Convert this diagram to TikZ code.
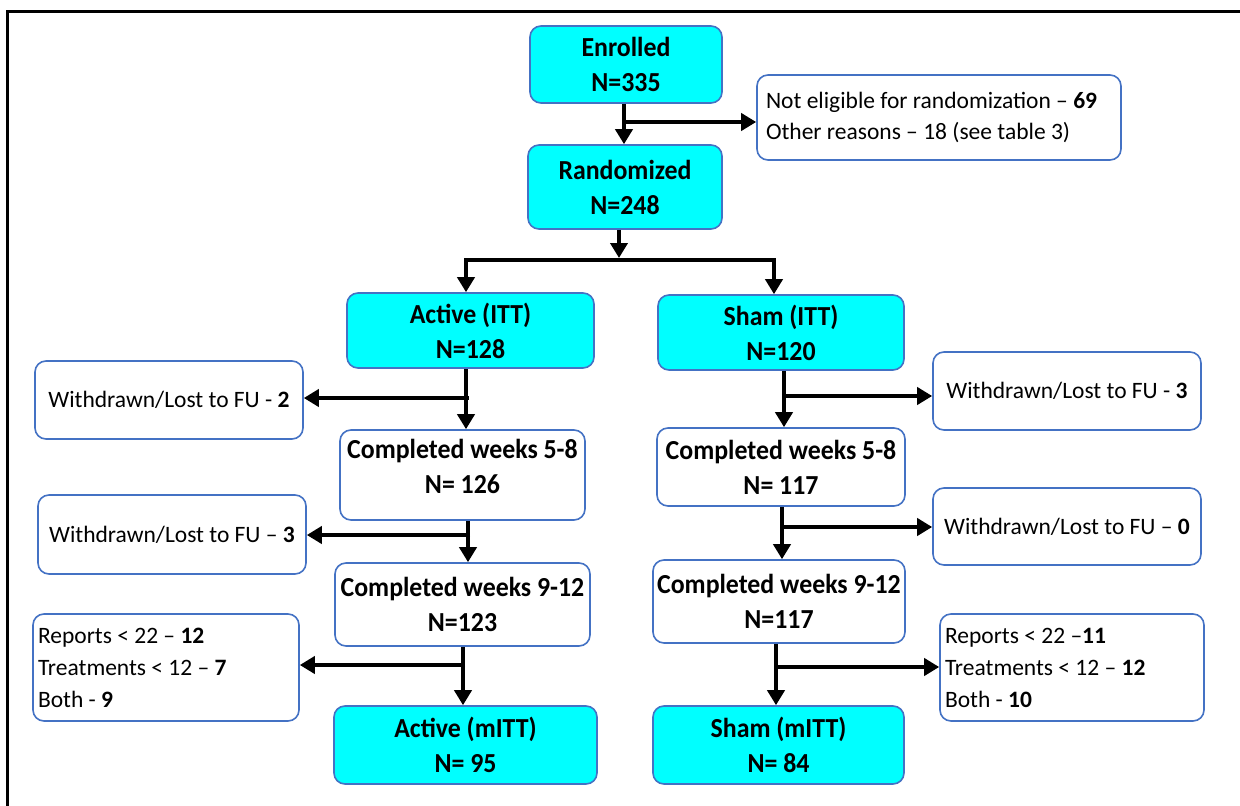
\documentclass[tikz,border=0pt]{standalone}
\usepackage{fontspec}
\setmainfont{Carlito}
\newfontfamily\boldface[FakeStretch=0.94]{Carlito}
\usetikzlibrary{arrows.meta}
\definecolor{bordc}{RGB}{68,114,196}
\definecolor{cyanf}{RGB}{0,255,255}
\begin{document}
\begin{tikzpicture}[x=1pt,y=-1pt,
  box/.style={draw=bordc, line width=1.6pt, rounded corners=11pt, inner sep=0pt, align=center},
  cybox/.style={box, fill=cyanf, font=\boldface\bfseries\fontsize{27.5}{35}\selectfont},
  wbox/.style={box, fill=white, font=\boldface\bfseries\fontsize{27.5}{35}\selectfont},
  nbox/.style={box, fill=white, font=\fontsize{23.5}{32}\selectfont},
  lbox/.style={nbox, align=flush left},
  arr/.style={line width=4.7pt, -{Triangle[length=15pt,width=17pt]}},
  frame/.style={line width=3pt}]
\useasboundingbox (0,0) rectangle (1240,806);
\draw[frame] (7.5,806) -- (7.5,11.5) -- (1240,11.5);

% main column
\node[cybox, minimum width=192pt, minimum height=77pt] (enr) at (626,64.5) {Enrolled\\N=335};
\node[cybox, minimum width=194pt, minimum height=84pt] (ran) at (625,187) {Randomized\\N=248};
\node[lbox, minimum height=85pt, text width=346pt, inner xsep=9pt,
      font=\fontsize{23.5}{31}\selectfont] (nel) at (939,117.5)
      {Not eligible for randomization – \textbf{69}\\Other reasons – 18 (see table 3)};

% active arm
\node[cybox, minimum width=247pt, minimum height=75pt] (act) at (470.5,330.5) {Active (ITT)\\N=128};
\node[wbox, minimum width=245pt, minimum height=90pt, text depth=17pt] (a58) at (462.5,475) {Completed weeks 5-8\\N= 126};
\node[wbox, minimum width=255pt, minimum height=83pt] (a912) at (462.5,604.5) {Completed weeks 9-12\\N=123};
\node[cybox, minimum width=263pt, minimum height=78pt] (am) at (465.5,745) {Active (mITT)\\N= 95};
\node[nbox, minimum width=268pt, minimum height=78pt] (wl1) at (169,400) {Withdrawn/Lost to FU - \textbf{2}};
\node[nbox, minimum width=268pt, minimum height=79pt] (wl2) at (172,534.5) {Withdrawn/Lost to FU – \textbf{3}};
\node[lbox, minimum height=107pt, text width=256pt, inner xsep=5pt] (rl) at (166,667.5)
      {Reports < 22 – \textbf{12}\\Treatments < 12 – \textbf{7}\\Both - \textbf{9}};

% sham arm
\node[cybox, minimum width=246pt, minimum height=75pt] (sham) at (781,332.5) {Sham (ITT)\\N=120};
\node[wbox, minimum width=248pt, minimum height=78pt] (s58) at (781,467) {Completed weeks 5-8\\N= 117};
\node[wbox, minimum width=252pt, minimum height=83pt] (s912) at (779,601.5) {Completed weeks 9-12\\N=117};
\node[cybox, minimum width=251pt, minimum height=78pt] (sm) at (778.5,745) {Sham (mITT)\\N= 84};
\node[nbox, minimum width=268pt, minimum height=78pt] (wr1) at (1067,391) {Withdrawn/Lost to FU - \textbf{3}};
\node[nbox, minimum width=268pt, minimum height=77pt] (wr2) at (1067,526.5) {Withdrawn/Lost to FU – \textbf{0}};
\node[lbox, minimum height=107pt, text width=254pt, inner xsep=5pt] (rr) at (1072,667.5)
      {Reports < 22 –\textbf{11}\\Treatments < 12 – \textbf{12}\\Both - \textbf{10}};

% connectors top
\coordinate (j1) at (624,122);
\draw[arr] (enr.south -| j1) -- (ran.north -| j1);
\draw[arr] (j1) -- (nel.west |- j1);
\coordinate (j2) at (619,258);
\coordinate (jl) at (466,260);
\coordinate (jr) at (774,260);
\draw[arr] (ran.south -| j2) -- (j2);
\draw[arr] (jr) -- (jl) -- (act.north -| jl);
\draw[arr] (jl) -- (jr) -- (sham.north -| jr);

% active connectors
\coordinate (b1) at (466,398);
\draw[arr] (act.south -| b1) -- (a58.north -| b1);
\draw[arr] ([xshift=3pt]b1) -- (wl1.east |- b1);
\coordinate (b2) at (468,535);
\draw[arr] (a58.south -| b2) -- (a912.north -| b2);
\draw[arr] ([xshift=2pt]b2) -- (wl2.east |- b2);
\coordinate (b3) at (463,665);
\draw[arr] (a912.south -| b3) -- (am.north -| b3);
\draw[arr] ([xshift=2pt]b3) -- (rl.east |- b3);

% sham connectors
\coordinate (c1) at (784,396);
\draw[arr] (sham.south -| c1) -- (s58.north -| c1);
\draw[arr] ([xshift=-2pt]c1) -- (wr1.west |- c1);
\coordinate (c2) at (782,527);
\draw[arr] (s58.south -| c2) -- (s912.north -| c2);
\draw[arr] ([xshift=-2pt]c2) -- (wr2.west |- c2);
\coordinate (c3) at (776,667);
\draw[arr] (s912.south -| c3) -- (sm.north -| c3);
\draw[arr] ([xshift=-2pt]c3) -- (rr.west |- c3);
\end{tikzpicture}
\end{document}
